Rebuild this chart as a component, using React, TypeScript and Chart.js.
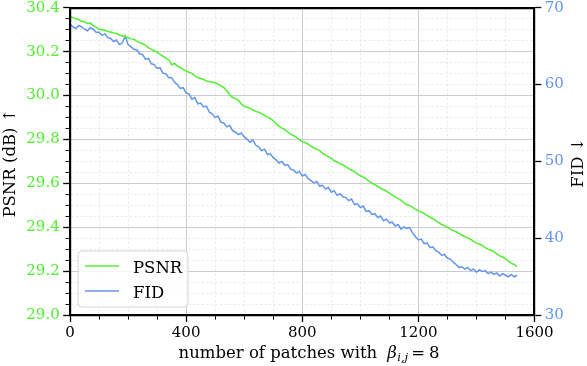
import React, { useEffect, useRef } from "react";
import { Chart, registerables } from "chart.js";

Chart.register(...registerables);

const sampleStep = 10;

const psnr = [
  30.362, 30.355, 30.35, 30.346, 30.338, 30.336, 30.328, 30.331, 30.318, 30.312,
  30.302, 30.3, 30.297, 30.292, 30.289, 30.285, 30.283, 30.276, 30.272, 30.268,
  30.263, 30.258, 30.256, 30.248, 30.241, 30.236, 30.23, 30.218, 30.21, 30.204,
  30.198, 30.188, 30.179, 30.172, 30.162, 30.14, 30.146, 30.134, 30.128, 30.118,
  30.111, 30.106, 30.101, 30.09, 30.082, 30.078, 30.074, 30.066, 30.063, 30.062,
  30.058, 30.052, 30.044, 30.036, 30.022, 30.004, 29.991, 29.986, 29.979, 29.962,
  29.952, 29.947, 29.943, 29.934, 29.928, 29.924, 29.918, 29.91, 29.902, 29.895,
  29.886, 29.872, 29.86, 29.852, 29.845, 29.834, 29.824, 29.818, 29.81, 29.798,
  29.79, 29.786, 29.779, 29.77, 29.761, 29.756, 29.749, 29.738, 29.729, 29.722,
  29.714, 29.703, 29.697, 29.69, 29.685, 29.676, 29.667, 29.66, 29.654, 29.643,
  29.635, 29.629, 29.621, 29.61, 29.601, 29.594, 29.586, 29.578, 29.571, 29.565,
  29.556, 29.547, 29.539, 29.531, 29.524, 29.512, 29.503, 29.499, 29.492, 29.482,
  29.475, 29.47, 29.464, 29.454, 29.446, 29.44, 29.431, 29.421, 29.413, 29.408,
  29.401, 29.392, 29.385, 29.38, 29.373, 29.364, 29.357, 29.352, 29.346, 29.336,
  29.328, 29.324, 29.318, 29.308, 29.301, 29.296, 29.289, 29.279, 29.27, 29.265,
  29.257, 29.246, 29.237, 29.23, 29.222,
];

const fid = [
  67.9, 67.5, 67.3, 67.7, 67.5, 67.2, 67.0, 67.4, 67.2, 66.8,
  66.8, 66.4, 66.6, 66.1, 66.0, 65.6, 65.8, 65.2, 65.4, 66.3,
  65.2, 64.9, 64.6, 64.5, 64.0, 63.9, 63.3, 63.4, 62.7, 62.6,
  62.1, 62.2, 61.5, 61.4, 60.9, 60.9, 60.3, 60.0, 59.5, 59.6,
  58.9, 58.8, 58.1, 58.3, 57.5, 57.6, 57.1, 57.2, 56.4, 56.2,
  55.7, 55.9, 55.1, 55.0, 54.5, 54.7, 54.0, 53.8, 53.5, 53.7,
  53.2, 52.9, 52.5, 52.8, 52.1, 51.9, 51.4, 51.6, 50.9, 51.0,
  50.5, 50.2, 49.8, 50.0, 49.5, 49.6, 49.0, 48.9, 48.5, 48.7,
  48.1, 48.3, 47.8, 47.5, 47.2, 47.4, 46.8, 46.9, 46.4, 46.6,
  46.0, 46.2, 45.6, 45.8, 45.4, 45.3, 44.9, 45.1, 44.4, 44.5,
  44.0, 44.2, 43.5, 43.6, 43.1, 43.2, 42.7, 42.9, 42.3, 42.5,
  42.0, 42.1, 41.6, 41.8, 41.2, 41.5, 41.3, 41.4, 40.7, 40.2,
  39.8, 39.9, 39.3, 39.4, 38.8, 38.9, 38.4, 38.2, 37.8, 37.9,
  37.4, 37.3, 36.9, 36.6, 36.2, 36.3, 36.0, 36.2, 35.8, 36.0,
  35.6, 35.9, 35.7, 35.8, 35.4, 35.6, 35.3, 35.5, 35.1, 35.4,
  35.2, 35.0, 35.3, 35.0, 35.2,
];

const patches = psnr.map((_, i) => i * sampleStep);

const seriesNames = ["PSNR", "FID"];
const xRange = [0, 1600];
const psnrRange = [29.0, 30.4];
const fidRange = [30, 70];
const xStep = 400;
const xMinorStep = 100;
const psnrStep = 0.2;
const psnrMinorStep = 0.05;
const fidStep = 10;
const xTitle = "number of patches with";
const yTitle = "PSNR (dB) \u2191";
const y2Title = "FID \u2193";

const GREEN = "rgb(80, 240, 48)";
const BLUE = "rgb(100, 149, 237)";
const INK = "#000000";
const MAJOR_GRID = "#cccccc";
const MINOR_GRID = "#e4e4e4";
const FONT = "DejaVu Serif";

const TICK_LEN = 6.8;
const MINOR_VISIBLE = 3.4;
const AXIS_W = 2.2;

const isMajorX = (v: number) => Math.round(v) % xStep === 0;
const isMajorY = (v: number) => Math.round(v * 100) % Math.round(psnrStep * 100) === 0;

const decorPlugin = {
  id: "decor",
  beforeDraw(chart: any) {
    const { ctx, width, height } = chart;
    ctx.save();
    ctx.fillStyle = "#ffffff";
    ctx.fillRect(0, 0, width, height);
    ctx.restore();
  },
  afterDraw(chart: any) {
    const { ctx } = chart;
    ctx.save();
    // legend
    const lx = 78, ly = 251, lw = 110, lh = 56, r = 4;
    ctx.beginPath();
    ctx.moveTo(lx + r, ly);
    ctx.lineTo(lx + lw - r, ly);
    ctx.quadraticCurveTo(lx + lw, ly, lx + lw, ly + r);
    ctx.lineTo(lx + lw, ly + lh - r);
    ctx.quadraticCurveTo(lx + lw, ly + lh, lx + lw - r, ly + lh);
    ctx.lineTo(lx + r, ly + lh);
    ctx.quadraticCurveTo(lx, ly + lh, lx, ly + lh - r);
    ctx.lineTo(lx, ly + r);
    ctx.quadraticCurveTo(lx, ly, lx + r, ly);
    ctx.closePath();
    ctx.fillStyle = "rgba(255,255,255,0.8)";
    ctx.fill();
    ctx.strokeStyle = "#d6d6d6";
    ctx.lineWidth = 1;
    ctx.stroke();
    const colors = [GREEN, BLUE];
    const rows = [266, 291];
    ctx.font = `16.5px "${FONT}"`;
    ctx.textBaseline = "alphabetic";
    ctx.textAlign = "left";
    seriesNames.forEach((name, i) => {
      ctx.strokeStyle = colors[i];
      ctx.lineWidth = 1.5;
      ctx.beginPath();
      ctx.moveTo(85, rows[i]);
      ctx.lineTo(119, rows[i]);
      ctx.stroke();
      ctx.fillStyle = "#000";
      ctx.fillText(name, 133, rows[i] + 6.5);
    });

    // axis titles
    ctx.fillStyle = "#000";
    ctx.textAlign = "center";
    ctx.textBaseline = "middle";
    ctx.font = `16.5px "${FONT}"`;
    ctx.save();
    ctx.translate(11, 163);
    ctx.rotate(-Math.PI / 2);
    ctx.fillText(yTitle, 0, 0);
    ctx.restore();
    ctx.save();
    ctx.translate(578.5, 162.5);
    ctx.rotate(-Math.PI / 2);
    ctx.fillText(y2Title, 0, 0);
    ctx.restore();

    // x title with math
    const parts = [
      { t: xTitle, f: `16.5px "${FONT}"`, dy: 0, gap: 10 },
      { t: "\u03b2", f: `italic 16.5px "${FONT}"`, dy: 0, gap: 0.5 },
      { t: "i,j", f: `italic 11.5px "${FONT}"`, dy: 3.5, gap: 3 },
      { t: "=", f: `16.5px "${FONT}"`, dy: 0, gap: 4 },
      { t: "8", f: `16.5px "${FONT}"`, dy: 0, gap: 0 },
    ];
    let total = 0;
    const widths = parts.map((p) => {
      ctx.font = p.f;
      const wd = ctx.measureText(p.t).width;
      total += wd + p.gap;
      return wd;
    });
    let cx = 309 - total / 2;
    ctx.textAlign = "left";
    ctx.textBaseline = "alphabetic";
    parts.forEach((p, i) => {
      ctx.font = p.f;
      ctx.fillText(p.t, cx, 357.5 + p.dy);
      cx += widths[i] + p.gap;
    });
    ctx.restore();
  },
};

const borderOpts = { display: true, color: INK, width: AXIS_W, z: 1 };

export default function App() {
  const ref = useRef<HTMLCanvasElement | null>(null);
  useEffect(() => {
    document.body.style.margin = "0";
    if (!ref.current) return;
    const shaft = TICK_LEN - AXIS_W / 2;
    const chart = new Chart(ref.current, {
      type: "line",
      data: {
        datasets: [
          {
            label: seriesNames[0],
            data: patches.map((p, i) => ({ x: p, y: psnr[i] })),
            borderColor: GREEN,
            borderWidth: 1.5,
            pointRadius: 0,
            xAxisID: "x",
            yAxisID: "y",
          },
          {
            label: seriesNames[1],
            data: patches.map((p, i) => ({ x: p, y: fid[i] })),
            borderColor: BLUE,
            borderWidth: 1.5,
            pointRadius: 0,
            xAxisID: "x",
            yAxisID: "y2",
          },
        ],
      },
      options: {
        animation: false,
        responsive: false,
        devicePixelRatio: 1,
        layout: { padding: { top: 7.7, left: 0, right: 0, bottom: 0 } },
        plugins: { legend: { display: false }, tooltip: { enabled: false } },
        scales: {
          x: {
            type: "linear",
            position: "bottom",
            min: xRange[0],
            max: xRange[1],
            ticks: {
              stepSize: xMinorStep,
              color: "#000",
              font: { family: FONT, size: 15 },
              padding: 2,
              maxRotation: 0,
              autoSkip: false,
              callback: (v: any) => (isMajorX(Number(v)) ? String(v) : ""),
            },
            grid: {
              color: (c: any) => (c.tick && isMajorX(c.tick.value) ? MAJOR_GRID : MINOR_GRID),
              lineWidth: (c: any) => (c.tick && isMajorX(c.tick.value) ? 1 : 0.8),
              drawTicks: true,
              tickLength: TICK_LEN,
              tickColor: INK,
              tickWidth: (c: any) => (c.tick && isMajorX(c.tick.value) ? 1.3 : 1),
              // bottom axis ticks are drawn from the axis outward
              tickBorderDash: (c: any) => (c.tick && isMajorX(c.tick.value) ? [] : [MINOR_VISIBLE, 20]),
              tickBorderDashOffset: 0,
            },
            border: {
              ...borderOpts,
              dash: (c: any) => (c.tick && !isMajorX(c.tick.value) ? [2.5, 2] : []),
            },
            afterFit: (s: any) => {
              s.height = 50.8;
              s.paddingLeft = 0;
              s.paddingRight = 0;
            },
          },
          xTop: {
            type: "linear",
            position: "top",
            min: xRange[0],
            max: xRange[1],
            ticks: { display: false },
            grid: { display: false, drawTicks: false },
            border: borderOpts,
            afterFit: (s: any) => {
              s.height = 0;
              s.paddingLeft = 0;
              s.paddingRight = 0;
            },
          },
          y: {
            type: "linear",
            position: "left",
            min: psnrRange[0],
            max: psnrRange[1],
            ticks: {
              stepSize: psnrMinorStep,
              color: GREEN,
              font: { family: FONT, size: 15 },
              padding: 3.5,
              autoSkip: false,
              callback: (v: any) => (isMajorY(Number(v)) ? Number(v).toFixed(1) : ""),
            },
            grid: {
              color: (c: any) => (c.tick && isMajorY(c.tick.value) ? MAJOR_GRID : MINOR_GRID),
              lineWidth: (c: any) => (c.tick && isMajorY(c.tick.value) ? 1 : 0.8),
              drawTicks: true,
              tickLength: TICK_LEN,
              tickColor: INK,
              tickWidth: (c: any) => (c.tick && isMajorY(c.tick.value) ? 1.3 : 1),
              // left axis ticks are drawn from the outer end toward the axis
              tickBorderDash: (c: any) =>
                c.tick && isMajorY(c.tick.value) ? [] : [MINOR_VISIBLE, shaft - MINOR_VISIBLE],
              tickBorderDashOffset: (c: any) => (c.tick && isMajorY(c.tick.value) ? 0 : MINOR_VISIBLE),
            },
            border: {
              ...borderOpts,
              dash: (c: any) => (c.tick && !isMajorY(c.tick.value) ? [2.5, 2] : []),
            },
            afterFit: (s: any) => {
              s.width = 70;
              s.paddingTop = 0;
              s.paddingBottom = 0;
            },
          },
          y2: {
            type: "linear",
            position: "right",
            min: fidRange[0],
            max: fidRange[1],
            ticks: {
              stepSize: fidStep,
              color: BLUE,
              font: { family: FONT, size: 15 },
              padding: 3.5,
              callback: (v: any) => String(v),
            },
            grid: { drawOnChartArea: false, drawTicks: true, tickLength: TICK_LEN, tickColor: INK, tickWidth: 1.3 },
            border: borderOpts,
            afterFit: (s: any) => {
              s.width = 52.5;
              s.paddingTop = 0;
              s.paddingBottom = 0;
            },
          },
        },
      },
      plugins: [decorPlugin],
    });
    return () => chart.destroy();
  }, []);
  return <canvas ref={ref} width={587} height={366} style={{ display: "block" }} />;
}
